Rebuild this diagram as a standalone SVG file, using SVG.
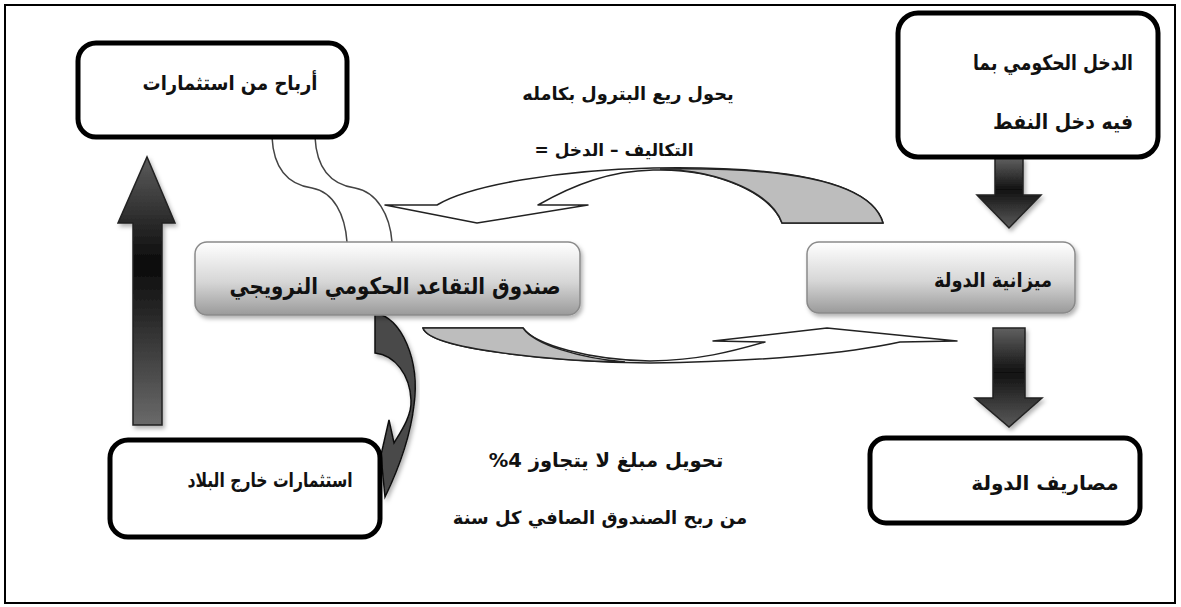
<svg xmlns="http://www.w3.org/2000/svg" width="1181" height="607" viewBox="0 0 1181 607">
<style>
.box{fill:#fff;stroke:#000;stroke-width:5}
.gbox{fill:url(#gb);stroke:#8a8a8a;stroke-width:1.5}
.t{font-family:"DejaVu Sans",sans-serif;font-weight:bold;fill:#111;dominant-baseline:central;direction:rtl;unicode-bidi:embed}
.lbl{font-family:"DejaVu Sans",sans-serif;font-weight:bold;fill:#111;dominant-baseline:central;direction:rtl;unicode-bidi:embed}
.rib{fill:#fff;stroke:#222;stroke-width:1.5;stroke-linejoin:round}
.ribg{fill:#bdbdbd;stroke:#222;stroke-width:1.5}
.fat{stroke:#222;stroke-width:1.5}
.thin{fill:none;stroke:#444;stroke-width:1.5}
</style>
<defs>
<linearGradient id="gb" x1="0" y1="0" x2="0" y2="1">
<stop offset="0" stop-color="#ffffff"/>
<stop offset="0.55" stop-color="#d6d6d6"/>
<stop offset="1" stop-color="#9a9a9a"/>
</linearGradient>
<linearGradient id="gv" x1="0" y1="0" x2="0" y2="1">
<stop offset="0" stop-color="#5c5c5c"/>
<stop offset="0.4" stop-color="#0a0a0a"/>
<stop offset="1" stop-color="#6a6a6a"/>
</linearGradient>
<linearGradient id="gd" x1="0" y1="0" x2="0" y2="1">
<stop offset="0" stop-color="#606060"/>
<stop offset="0.45" stop-color="#111"/>
<stop offset="1" stop-color="#5a5a5a"/>
</linearGradient>
<filter id="sh" x="-10%" y="-10%" width="120%" height="130%">
<feDropShadow dx="2" dy="3" stdDeviation="2" flood-color="#000" flood-opacity="0.3"/>
</filter>
</defs>
<rect x="0" y="0" width="1181" height="607" fill="#fff"/>
<rect x="5" y="5" width="1170" height="598" fill="none" stroke="#000" stroke-width="2"/>

<g id="connectors">
<path class="thin" d="M272,137 C274,178 298,186 312,188 C334,192 345,215 347,242"/>
<path class="thin" d="M315,137 C317,178 341,186 355,188 C377,192 390,215 392,242"/>
<path class="rib" d="M883,223 C870,178 770,166 653,168 C560,170 470,185 437,205 L385,205 L477,223 L588,205 L538,205 C575,184 610,171 653,170 C720,168 772,195 782,223 Z"/>
<path class="ribg" d="M660,169 C770,167 870,178 883,223 L782,223 C772,195 725,171 660,169 Z"/>
<path class="rib" d="M423,328 C430,350 560,362 650,363 C760,362 850,353 900,342 L957,341 L827,328 L713,341 L765,342 C730,352 700,360 650,361 C590,360 535,345 523,328 Z"/>
<path class="ribg" d="M423,328 C430,350 560,361 625,362 C580,358 535,345 523,328 Z"/>
<path d="M375,313 C402,318 420,360 414,405 C410,440 398,470 385,497 L381,455 L389,420 L394,443 C402,430 412,415 411,400 C410,375 395,355 375,353 Z" fill="#4a4a4a" stroke="#111" stroke-width="1.5" filter="url(#sh)"/>
<path class="fat" fill="url(#gv)" d="M133,425 L133,223 L118,223 L147,157 L175,223 L162,223 L162,425 Z" filter="url(#sh)"/>
<path class="fat" fill="url(#gd)" d="M995,158 L1023,158 L1023,195 L1041,195 L1009,228 L977,195 L995,195 Z" filter="url(#sh)"/>
<path class="fat" fill="url(#gd)" d="M993,328 L1025,328 L1025,398 L1042,398 L1009,427 L975,398 L993,398 Z" filter="url(#sh)"/>
</g>

<g id="n-profits">
<rect class="box" x="78" y="43" width="269" height="94" rx="18"/>
<text class="t" transform="translate(230,83) scale(0.9,1)" font-size="20" text-anchor="middle">أرباح من استثمارات</text>
</g>
<g id="n-income">
<rect class="box" x="898" y="13" width="260" height="144" rx="20"/>
<text class="t" transform="translate(1133,63) scale(0.82,1)" font-size="21" text-anchor="start">الدخل الحكومي بما</text>
<text class="t" transform="translate(1133,122) scale(0.9,1)" font-size="21" text-anchor="start">فيه دخل النفط</text>
</g>
<g id="n-fund">
<rect class="gbox" x="195" y="242" width="385" height="73" rx="12" filter="url(#sh)"/>
<text class="t" transform="translate(395,286) scale(0.86,1)" font-size="23" text-anchor="middle">صندوق التقاعد الحكومي النرويجي</text>
</g>
<g id="n-budget">
<rect class="gbox" x="807" y="242" width="268" height="71" rx="12" filter="url(#sh)"/>
<text class="t" transform="translate(993,280) scale(0.89,1)" font-size="20" text-anchor="middle">ميزانية الدولة</text>
</g>
<g id="n-abroad">
<rect class="box" x="110" y="440" width="270" height="97" rx="18"/>
<text class="t" transform="translate(270,480) scale(0.78,1)" font-size="20" text-anchor="middle">استثمارات خارج البلاد</text>
</g>
<g id="n-expenses">
<rect class="box" x="870" y="438" width="270" height="85" rx="16"/>
<text class="t" x="1045" y="483" font-size="20" text-anchor="middle">مصاريف الدولة</text>
</g>
<g id="labels">
<text class="lbl" x="628" y="93" font-size="17.8" text-anchor="middle">يحول ريع البترول بكامله</text>
<text class="lbl" x="614" y="150" font-size="17" text-anchor="middle">التكاليف – الدخل =</text>
<text class="lbl" x="606" y="460" font-size="19.5" text-anchor="middle">تحويل مبلغ لا يتجاوز 4%</text>
<text class="lbl" x="600" y="517" font-size="18" text-anchor="middle">من ربح الصندوق الصافي كل سنة</text>
</g>
</svg>
